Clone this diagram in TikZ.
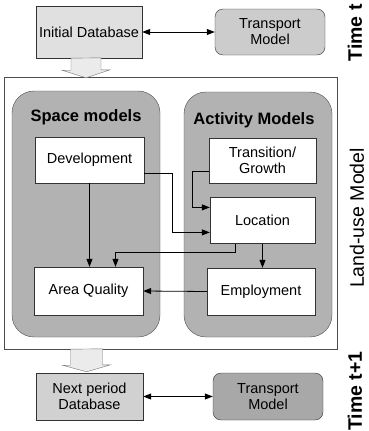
\documentclass[tikz,border=0pt]{standalone}
\usepackage{fontspec}
\setmainfont{Liberation Sans}
\usetikzlibrary{positioning,calc,arrows.meta}

\begin{document}
\begin{tikzpicture}[x=1pt, y=-1pt,
				box/.style={rectangle, draw=black!80, fill=white, font=\fontsize{14.5}{16}\selectfont, align=center, inner sep=0pt},
				database/.style={box, fill=black!12},
				transport/.style={box, rounded corners=8pt, fill=black!20},
				group/.style={rectangle, rounded corners=22pt, draw=black!70, fill=black!30},
				header/.style={font=\fontsize{16.5}{18}\bfseries\selectfont},
				sidelabel/.style={rotate=90, font=\fontsize{19.5}{22}\selectfont},
				timelabel/.style={sidelabel, font=\fontsize{19.5}{22}\bfseries\selectfont},
				hollow/.style={draw=black!55, fill=black!8},
				conn/.style={thick, -{Triangle[length=8pt,width=6pt]}},
				twoway/.style={thick, {Triangle[length=8pt,width=6pt]}-{Triangle[length=8pt,width=6pt]}}
			]
			\useasboundingbox (0,0) rectangle (369,431);
			% time t
			\node[database, minimum width=106pt, minimum height=52pt] (initdb) at (89,32) {Initial Database};
			\node[transport, minimum width=110pt, minimum height=46pt] (transtop) at (270,32) {Transport\\Model};
			\draw[twoway] (initdb.east) -- (transtop.west);
			\node[timelabel] (timet) at (355,33) {Time t};
			% land-use model
			\node[rectangle, draw=black!70, fill=white, minimum width=333pt, minimum height=272pt] (landuse) at (170.5,213) {};
			\node[group, minimum width=148pt, minimum height=246pt] (space) at (86,214) {};
			\node[group, minimum width=148pt, minimum height=245pt] (activity) at (258,214.5) {};
			\node[header] (spacetitle) at ([yshift=-26pt]space.north) {Space models};
			\node[header] (activitytitle) at ([xshift=-4pt, yshift=-28pt]activity.north) {Activity Models};
			\node[box, minimum width=109pt, minimum height=46pt] (dev) at (89.5,160) {Development};
			\node[box, minimum width=109pt, minimum height=48pt] (areaq) at (88.5,291) {Area Quality};
			\node[box, minimum width=107pt, minimum height=45pt] (trans) at (262.5,160.5) {Transition/\\Growth};
			\node[box, minimum width=105pt, minimum height=46pt] (loc) [below=14pt of trans] {Location};
			\node[box, minimum width=108pt, minimum height=47pt] (empl) at (261,291.5) {Employment};
			\node[sidelabel] (landuselabel) at (357,218) {Land-use Model};
			\begin{scope}[conn]
			\draw ([yshift=-13pt]dev.east) -- ++(28,0) |- ([yshift=-12pt]loc.west);
			\draw ([yshift=-11pt]trans.west) -- ++(-16,0) |- ([yshift=13pt]loc.west);
			\draw (dev.south) -- (dev.south |- areaq.north);
			\draw ([xshift=-27pt]loc.south) -- ++(0,9) -| ([xshift=27pt]areaq.north);
			\draw (loc.south) -- (loc.south |- empl.north);
			\draw (empl.west) -- (areaq.east);
			\end{scope}
			% big arrows between periods
			\coordinate (downtop) at ([xshift=-3pt]initdb.south);
			\draw[hollow] ($(downtop)+(-15,0)$) -- ++(0,12) -- ++(-9,0) -- ($(downtop |- landuse.north)+(0,1)$)
				-- ++(24,-8) -- ++(-9,0) -- ++(0,-12) -- cycle;
			% time t+1
			\node[database, fill=black!18, minimum width=107pt, minimum height=47pt] (nextdb) at (89.5,396.5) {Next period\\Database};
			\node[transport, fill=black!34, minimum width=110pt, minimum height=47pt] (transbot) at (268,396.5) {Transport\\Model};
			\draw[twoway] (nextdb.east) -- (transbot.west);
			\coordinate (downbot) at ([xshift=-3pt]landuse.south -| nextdb.north);
			\draw[hollow] ($(downbot)+(-16,0)$) -- ++(0,16) -- ++(-8,0) -- ($(downbot |- nextdb.north)+(0,-1)$)
				-- ++(24,-7) -- ++(-8,0) -- ++(0,-16) -- cycle;
			\node[timelabel] (timetone) at (355,391) {Time t+1};
			\end{tikzpicture}
\end{document}
